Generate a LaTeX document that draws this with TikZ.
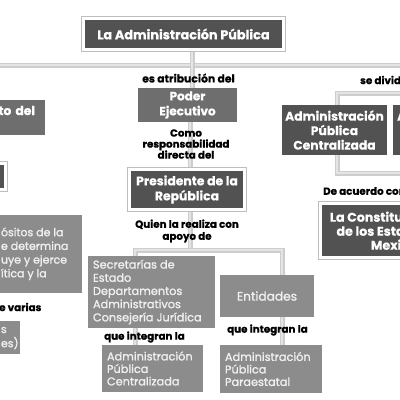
\documentclass[tikz,border=0pt]{standalone}
\usepackage{fontspec}
\setmainfont{Poppins}[BoldFeatures={FakeBold=0.6}]
\newfontfamily\medfont{Poppins}[FakeBold=1.4]
\usetikzlibrary{backgrounds}
\definecolor{boxdark}{HTML}{525252}
\definecolor{boxmid}{HTML}{6E6E6E}
\definecolor{boxlight}{HTML}{8C8C8C}
\definecolor{textlight}{HTML}{F0F0F0}
\definecolor{conn}{HTML}{CDCDCD}
\definecolor{connin}{HTML}{E4E4E4}
\definecolor{framegray}{HTML}{BDBDBD}
\begin{document}
\begin{tikzpicture}[x=1pt,y=-1pt,
  darkbox/.style={fill=boxdark, text=white, font=\bfseries\fontsize{12.3}{14.5}\selectfont, align=center, inner sep=2pt},
  framed/.style={darkbox, preaction={draw=framegray, line width=5pt}, draw=white, line width=3pt},
  midbox/.style={darkbox, fill=boxmid},
  lightbox/.style={fill=boxlight, text=textlight, font=\medfont\fontsize{11.3}{13.2}\selectfont, align=flush left, inner sep=4pt},
  lbl/.style={font=\bfseries\fontsize{10.3}{11.5}\selectfont, align=center, inner sep=0pt},
  link/.style={draw=conn, line width=1.5pt, double=connin, double distance=2pt}]
\useasboundingbox (0,0) rectangle (400,400);
\clip (0,0) rectangle (400,400);
% cabecera
\node[framed, minimum width=200pt, minimum height=31pt, font=\bfseries\fontsize{12.8}{14}\selectfont] (titulo) at (183.5,34) {La Administración Pública};
\node[lbl, font=\bfseries\fontsize{10.8}{11.5}\selectfont] (atribucion) at (188.5,78) {es atribución del};
\node[midbox, minimum width=99pt, minimum height=34pt, font=\bfseries\fontsize{12}{15}\selectfont] (poder) at (187.5,105) {Poder\\Ejecutivo};
\node[lbl, font=\bfseries\fontsize{10.3}{11}\selectfont] (como) at (186,144) {Como\\responsabilidad\\directa del};
\node[framed, minimum width=115pt, minimum height=40pt, font=\bfseries\fontsize{12.4}{15}\selectfont] (presidente) at (187,189.5) {Presidente de la\\República};
\node[lbl, font=\bfseries\fontsize{10.3}{12}\selectfont] (quien) at (187,231) {Quien la realiza con\\apoyo de};
% rama del ejecutivo
\node[lightbox, minimum width=127pt, minimum height=70pt, text width=117pt] (secretarias) at (151.5,292) {Secretarías de\\Estado\\Departamentos\\Administrativos\\Consejería Jurídica};
\node[lightbox, minimum width=94pt, minimum height=42pt, align=center, font=\medfont\fontsize{12.2}{14}\selectfont] (entidades) at (267,296) {Entidades};
\node[lbl, anchor=west] (integranC) at (104,337) {que integran la};
\node[lbl, anchor=west] (integranP) at (227,330) {que integran la};
\node[lightbox, minimum width=101pt, minimum height=47pt, text width=91pt, font=\medfont\fontsize{11.3}{12.5}\selectfont] (admincent) at (152.5,368.5) {Administración\\Pública\\Centralizada};
\node[lightbox, minimum width=102pt, minimum height=48pt, text width=92pt, font=\medfont\fontsize{11.3}{12.5}\selectfont] (adminpara) at (271,369) {Administración\\Pública\\Paraestatal};
% lado derecho
\node[lbl, anchor=west] (divide) at (360,80) {se divide en};
\node[darkbox, minimum width=105pt, minimum height=50pt] (admincentr) at (334.5,130) {Administración\\Pública\\Centralizada};
\node[darkbox, minimum width=107pt, minimum height=50pt] (adminparar) at (446.5,130) {Administración\\Pública\\Paraestatal};
\node[lbl, anchor=west] (acuerdo) at (323,191) {De acuerdo con};
\node[framed, minimum width=171pt, minimum height=54pt, font=\bfseries\fontsize{12.6}{14}\selectfont] (constitucion) at (406,230.5) {La Constitución Política\\de los Estados Unidos\\Mexicanos};
% lado izquierdo
\node[midbox, minimum width=105pt, minimum height=35pt, text width=85pt, align=right, text depth=14pt] (concepto) at (-7.5,117.5) {to del};
\node[framed, minimum width=50pt, minimum height=26pt] (ley) at (-20,176.5) {};
\node[lightbox, minimum width=84pt, minimum height=78pt, inner sep=3pt, font=\medfont\fontsize{11}{13.7}\selectfont] (propositos) at (40,254)
  {\begin{tabular}{@{}p{78pt}@{}}ósitos de la\\e determina\\uye y ejerce\\ítica y la\\ \end{tabular}};
\node[lbl, anchor=west] (varias) at (-1,307) {e varias};
\node[lightbox, minimum width=22pt, minimum height=31pt, inner sep=3pt, font=\medfont\fontsize{11}{13}\selectfont] (entes) at (9,337.5)
  {\begin{tabular}{@{}p{16pt}@{}}s\\es)\end{tabular}};
% conectores
\coordinate (hub) at (192,65);
\coordinate (lineL) at (-10,65);
\coordinate (lineR) at (470,65);
\coordinate (colP) at (190,0);
\coordinate (brL) at (135,250);
\coordinate (brR) at (282,250);
\coordinate (divTop) at (430,65);
\coordinate (brU) at (337,93);
\coordinate (brD) at (337,173);
\begin{scope}[on background layer]
\clip (0,0) rectangle (400,400);
\draw[link] (lineL) -- (lineR);
\draw[link] (titulo.south -| hub) -- (poder.north -| hub);
\draw[link] (poder.south -| colP) -- (presidente.north -| colP);
\draw[link] (presidente.south -| colP) -- (colP |- brL);
\draw[link] (secretarias.north -| brL) -- (brL) -- (brR) -- (entidades.north -| brR);
\draw[link] (entidades.south -| brR) -- (adminpara.north -| brR);
\draw[link] (secretarias.south -| brL) -- (admincent.north -| brL);
\draw[link] (divTop) -- (divTop |- brU);
\draw[link] (admincentr.north -| brU) -- (brU) -- (brU -| adminparar) -- (adminparar.north);
\draw[link] (admincentr.south -| brD) -- (brD) -- (brD -| adminparar) -- (adminparar.south);
\draw[link] (constitucion.north |- brD) -- (constitucion.north);
\end{scope}
\end{tikzpicture}
\end{document}
